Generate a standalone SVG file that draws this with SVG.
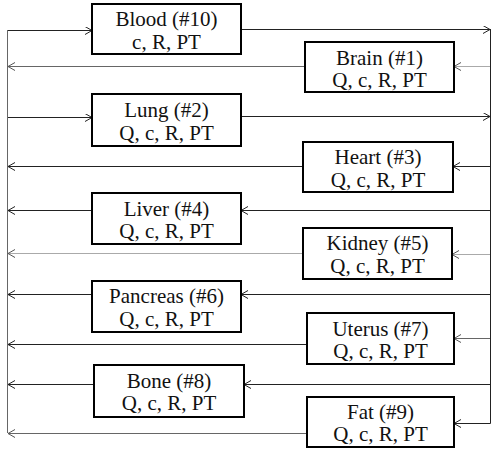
<svg xmlns="http://www.w3.org/2000/svg" width="500" height="457" viewBox="0 0 500 457">
<style>
.box rect{fill:#fff;stroke:#000;stroke-width:2}
.box text{font-family:"Liberation Serif","Times New Roman",serif;font-size:21px;text-anchor:middle;fill:#111}
#connectors line,#connectors path{fill:none;stroke-width:1}
.k{stroke:#222}
.m{stroke:#666}
.g{stroke:#aaa}
</style>
<defs>
<marker id="ak" markerUnits="userSpaceOnUse" markerWidth="10" markerHeight="10" refX="7" refY="4" orient="auto"><path d="M0,0 L7,4 L0,8" fill="none" stroke="#222" stroke-width="1"/></marker>
<marker id="ag" markerUnits="userSpaceOnUse" markerWidth="10" markerHeight="10" refX="7" refY="4" orient="auto"><path d="M0,0 L7,4 L0,8" fill="none" stroke="#555" stroke-width="1"/></marker>
</defs>
<g id="connectors">
<line class="m" x1="7.5" y1="30" x2="7.5" y2="433"/>
<line class="k" x1="490.5" y1="29" x2="490.5" y2="423"/>
<!-- blood -->
<line class="k" x1="8" y1="30.5" x2="92" y2="30.5" marker-end="url(#ak)"/>
<line class="k" x1="241" y1="29.5" x2="490" y2="29.5" marker-end="url(#ak)"/>
<!-- brain -->
<line class="g" x1="490" y1="66.5" x2="454" y2="66.5" marker-end="url(#ag)"/>
<line class="m" x1="305" y1="66.5" x2="8" y2="66.5" marker-end="url(#ag)"/>
<!-- lung -->
<line class="k" x1="8" y1="117.5" x2="92" y2="117.5" marker-end="url(#ak)"/>
<line class="k" x1="241" y1="116.5" x2="490" y2="116.5" marker-end="url(#ak)"/>
<!-- heart -->
<line class="k" x1="490" y1="166.5" x2="453" y2="166.5" marker-end="url(#ak)"/>
<line class="k" x1="303" y1="166.5" x2="8" y2="166.5" marker-end="url(#ak)"/>
<!-- liver -->
<line class="k" x1="490" y1="210.5" x2="241" y2="210.5" marker-end="url(#ak)"/>
<line class="k" x1="92" y1="210.5" x2="8" y2="210.5" marker-end="url(#ak)"/>
<!-- kidney -->
<line class="g" x1="490" y1="254.5" x2="452" y2="254.5" marker-end="url(#ag)"/>
<line class="g" x1="303" y1="253.5" x2="8" y2="253.5" marker-end="url(#ag)"/>
<!-- pancreas -->
<line class="k" x1="490" y1="294.5" x2="241" y2="294.5" marker-end="url(#ak)"/>
<line class="k" x1="92" y1="294.5" x2="8" y2="294.5" marker-end="url(#ak)"/>
<!-- uterus -->
<line class="m" x1="490" y1="338.5" x2="454" y2="338.5" marker-end="url(#ag)"/>
<line class="k" x1="307" y1="344.5" x2="8" y2="344.5" marker-end="url(#ak)"/>
<!-- bone -->
<line class="k" x1="490" y1="384.5" x2="244" y2="384.5" marker-end="url(#ak)"/>
<line class="k" x1="94" y1="384.5" x2="8" y2="384.5" marker-end="url(#ak)"/>
<!-- fat -->
<path class="k" d="M490.5,423 L490.5,423.5 L454,423.5" marker-end="url(#ak)"/>
<line class="m" x1="307" y1="433.5" x2="8" y2="433.5" marker-end="url(#ag)"/>
</g>
<g id="blood" class="box"><rect x="92" y="4" width="149" height="50"/><text x="166.5" y="26">Blood (#10)</text><text x="166.5" y="49">c, R, PT</text></g>
<g id="brain" class="box"><rect x="305" y="42" width="149" height="50"/><text x="379.5" y="65">Brain (#1)</text><text x="379.5" y="87">Q, c, R, PT</text></g>
<g id="lung" class="box"><rect x="92" y="94" width="149" height="52"/><text x="166.5" y="117">Lung (#2)</text><text x="166.5" y="140">Q, c, R, PT</text></g>
<g id="heart" class="box"><rect x="303" y="142" width="150" height="50"/><text x="378" y="164">Heart (#3)</text><text x="378" y="187">Q, c, R, PT</text></g>
<g id="liver" class="box"><rect x="92" y="193" width="149" height="51"/><text x="166.5" y="216">Liver (#4)</text><text x="166.5" y="238">Q, c, R, PT</text></g>
<g id="kidney" class="box"><rect x="303" y="228" width="149" height="51"/><text x="377.5" y="250">Kidney (#5)</text><text x="377.5" y="273">Q, c, R, PT</text></g>
<g id="pancreas" class="box"><rect x="92" y="281" width="149" height="51"/><text x="166.5" y="303">Pancreas (#6)</text><text x="166.5" y="326">Q, c, R, PT</text></g>
<g id="uterus" class="box"><rect x="307" y="313" width="147" height="51"/><text x="380.5" y="336">Uterus (#7)</text><text x="380.5" y="358">Q, c, R, PT</text></g>
<g id="bone" class="box"><rect x="94" y="365" width="150" height="52"/><text x="169" y="388">Bone (#8)</text><text x="169" y="410">Q, c, R, PT</text></g>
<g id="fat" class="box"><rect x="307" y="397" width="147" height="50"/><text x="380.5" y="419">Fat (#9)</text><text x="380.5" y="441">Q, c, R, PT</text></g>
</svg>
